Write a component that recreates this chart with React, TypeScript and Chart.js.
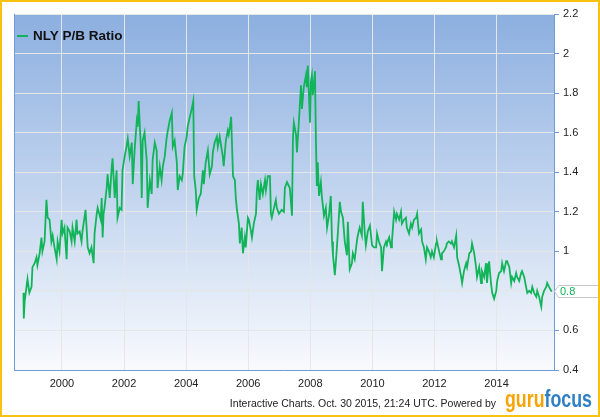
import { useEffect, useRef } from "react";
import { Chart, registerables } from "chart.js";

Chart.register(...registerables);

const seriesLabel = "NLY P/B Ratio";

const dates = [
  1998.76, 1998.77, 1998.80, 1998.89, 1998.95, 1999.02, 1999.05, 1999.12, 1999.18, 1999.21,
  1999.28, 1999.34, 1999.37, 1999.44, 1999.50, 1999.54, 1999.60, 1999.66, 1999.70, 1999.76,
  1999.83, 1999.86, 1999.92, 1999.99, 2000.02, 2000.08, 2000.15, 2000.18, 2000.25, 2000.31,
  2000.34, 2000.41, 2000.47, 2000.50, 2000.57, 2000.63, 2000.66, 2000.76, 2000.83, 2000.89,
  2000.95, 2001.02, 2001.05, 2001.12, 2001.15, 2001.25, 2001.28, 2001.31, 2001.34, 2001.37,
  2001.44, 2001.47, 2001.54, 2001.60, 2001.63, 2001.70, 2001.76, 2001.79, 2001.86, 2001.92,
  2001.95, 2002.02, 2002.08, 2002.12, 2002.18, 2002.25, 2002.28, 2002.34, 2002.41, 2002.44,
  2002.47, 2002.54, 2002.57, 2002.60, 2002.66, 2002.73, 2002.76, 2002.83, 2002.89, 2002.92,
  2002.99, 2003.05, 2003.08, 2003.15, 2003.21, 2003.25, 2003.31, 2003.37, 2003.41, 2003.47,
  2003.54, 2003.57, 2003.63, 2003.70, 2003.73, 2003.79, 2003.86, 2003.89, 2003.95, 2004.02,
  2004.05, 2004.12, 2004.18, 2004.23, 2004.26, 2004.31, 2004.34, 2004.41, 2004.47, 2004.54,
  2004.57, 2004.63, 2004.70, 2004.76, 2004.83, 2004.86, 2004.92, 2004.99, 2005.02, 2005.08,
  2005.15, 2005.18, 2005.21, 2005.28, 2005.34, 2005.37, 2005.41, 2005.45, 2005.48, 2005.51,
  2005.57, 2005.60, 2005.63, 2005.70, 2005.73, 2005.79, 2005.83, 2005.89, 2005.92, 2005.99,
  2006.02, 2006.08, 2006.12, 2006.18, 2006.25, 2006.28, 2006.31, 2006.37, 2006.41, 2006.47,
  2006.54, 2006.57, 2006.63, 2006.70, 2006.73, 2006.76, 2006.83, 2006.89, 2006.92, 2006.99,
  2007.08, 2007.15, 2007.18, 2007.25, 2007.34, 2007.41, 2007.44, 2007.47, 2007.54, 2007.57,
  2007.63, 2007.70, 2007.73, 2007.79, 2007.86, 2007.89, 2007.92, 2007.99, 2008.02, 2008.05,
  2008.08, 2008.15, 2008.18, 2008.21, 2008.24, 2008.28, 2008.34, 2008.37, 2008.44, 2008.50,
  2008.54, 2008.60, 2008.66, 2008.70, 2008.73, 2008.79, 2008.83, 2008.89, 2008.95, 2008.99,
  2009.05, 2009.11, 2009.18, 2009.21, 2009.27, 2009.34, 2009.37, 2009.43, 2009.50, 2009.53,
  2009.59, 2009.66, 2009.69, 2009.76, 2009.79, 2009.85, 2009.92, 2009.99, 2010.05, 2010.12,
  2010.15, 2010.21, 2010.28, 2010.31, 2010.37, 2010.44, 2010.47, 2010.54, 2010.60, 2010.63,
  2010.70, 2010.76, 2010.79, 2010.86, 2010.92, 2010.95, 2011.02, 2011.08, 2011.11, 2011.18,
  2011.24, 2011.28, 2011.34, 2011.41, 2011.44, 2011.50, 2011.57, 2011.60, 2011.66, 2011.72,
  2011.76, 2011.82, 2011.88, 2011.92, 2011.98, 2012.05, 2012.08, 2012.15, 2012.21, 2012.24,
  2012.30, 2012.37, 2012.40, 2012.46, 2012.53, 2012.56, 2012.63, 2012.70, 2012.73, 2012.79,
  2012.86, 2012.89, 2012.95, 2013.02, 2013.05, 2013.12, 2013.18, 2013.21, 2013.28, 2013.34,
  2013.37, 2013.44, 2013.50, 2013.53, 2013.60, 2013.66, 2013.69, 2013.76, 2013.82, 2013.86,
  2013.92, 2013.99, 2014.02, 2014.08, 2014.15, 2014.18, 2014.24, 2014.31, 2014.34, 2014.41,
  2014.47, 2014.50, 2014.57, 2014.63, 2014.66, 2014.73, 2014.79, 2014.82, 2014.89, 2014.95,
  2014.99, 2015.05, 2015.11, 2015.15, 2015.21, 2015.28, 2015.31, 2015.37, 2015.44, 2015.47,
  2015.53, 2015.60, 2015.63, 2015.69, 2015.76, 2015.79,
];

const ratios = [
  0.79, 0.66, 0.75, 0.86, 0.79, 0.82, 0.92, 0.94, 0.97, 0.93,
  0.99, 1.07, 1.00, 1.05, 1.26, 1.17, 1.16, 1.05, 1.08, 1.02,
  0.96, 1.05, 1.00, 1.16, 1.09, 1.12, 0.96, 1.12, 1.10, 1.05,
  1.12, 1.05, 1.16, 1.09, 1.10, 1.05, 1.10, 1.21, 1.02, 0.99,
  1.02, 0.94, 1.09, 1.19, 1.22, 1.16, 1.27, 1.07, 1.19, 1.22,
  1.32, 1.39, 1.27, 1.42, 1.47, 1.27, 1.41, 1.17, 1.22, 1.21,
  1.41, 1.48, 1.53, 1.57, 1.48, 1.55, 1.34, 1.51, 1.66, 1.63,
  1.76, 1.53, 1.27, 1.56, 1.60, 1.46, 1.22, 1.36, 1.29, 1.46,
  1.55, 1.51, 1.32, 1.43, 1.36, 1.43, 1.48, 1.57, 1.61, 1.66,
  1.70, 1.53, 1.56, 1.45, 1.31, 1.38, 1.36, 1.39, 1.53, 1.58,
  1.63, 1.68, 1.72, 1.76, 1.38, 1.31, 1.21, 1.27, 1.29, 1.41,
  1.34, 1.45, 1.51, 1.39, 1.43, 1.50, 1.55, 1.58, 1.53, 1.58,
  1.51, 1.48, 1.43, 1.56, 1.61, 1.59, 1.63, 1.68, 1.53, 1.38,
  1.36, 1.27, 1.22, 1.14, 1.04, 1.12, 0.99, 1.07, 1.02, 1.17,
  1.16, 1.11, 1.07, 1.14, 1.19, 1.31, 1.36, 1.26, 1.34, 1.29,
  1.36, 1.31, 1.38, 1.38, 1.19, 1.17, 1.22, 1.26, 1.22, 1.19,
  1.21, 1.20, 1.32, 1.35, 1.32, 1.18, 1.57, 1.65, 1.59, 1.50,
  1.65, 1.84, 1.72, 1.83, 1.89, 1.83, 1.94, 1.65, 1.86, 1.89,
  1.79, 1.91, 1.57, 1.33, 1.45, 1.28, 1.35, 1.28, 1.18, 1.22,
  1.12, 1.18, 1.28, 1.05, 0.98, 0.88, 0.96, 1.10, 1.25, 1.20,
  1.17, 1.05, 0.98, 1.15, 0.91, 0.94, 0.99, 0.96, 1.05, 1.08,
  1.12, 1.08, 1.25, 1.08, 1.03, 1.10, 1.13, 1.03, 1.02, 1.02,
  1.09, 1.05, 1.02, 0.90, 1.02, 1.05, 1.04, 1.07, 1.02, 1.05,
  1.20, 1.16, 1.19, 1.16, 1.20, 1.14, 1.16, 1.17, 1.12, 1.09,
  1.14, 1.12, 1.16, 1.17, 1.19, 1.09, 1.11, 1.05, 1.02, 0.96,
  1.02, 1.00, 0.97, 1.00, 0.97, 1.04, 1.05, 1.00, 0.96, 0.99,
  1.00, 1.02, 1.04, 1.05, 1.04, 1.05, 1.02, 1.08, 0.97, 0.93,
  0.87, 0.84, 0.90, 0.94, 0.92, 0.99, 1.00, 1.04, 0.99, 0.92,
  0.87, 0.92, 0.84, 0.90, 0.87, 0.94, 0.84, 0.95, 0.84, 0.79,
  0.76, 0.80, 0.85, 0.89, 0.90, 0.94, 0.90, 0.95, 0.95, 0.92,
  0.84, 0.87, 0.85, 0.89, 0.87, 0.85, 0.89, 0.90, 0.87, 0.82,
  0.79, 0.80, 0.79, 0.82, 0.79, 0.77, 0.80, 0.77, 0.72, 0.77,
  0.80, 0.82, 0.84, 0.82, 0.80, 0.80,
];

const xTickYears = [2000, 2002, 2004, 2006, 2008, 2010, 2012, 2014];
const yTickValues = [0.4, 0.6, 0.8, 1, 1.2, 1.4, 1.6, 1.8, 2, 2.2];
const xRange = [1998.455, 2015.85];
const yRange = [0.4, 2.2];
const footerText = "Interactive Charts. Oct. 30 2015, 21:24 UTC. Powered by";
const logoParts = ["guru", "focus"];

const GREEN = "#12b45a";
const AXIS_BLUE = "#6f9bd8";
const GRID = "#e6e6e6";
const FONT = '"Liberation Sans", Arial, sans-serif';

const decorPlugin = {
  id: "decor",
  beforeDraw(chart: any) {
    const { ctx, chartArea: a, width, height } = chart;
    ctx.save();
    ctx.fillStyle = "#ffffff";
    ctx.fillRect(0, 0, width, height);
    const g = ctx.createLinearGradient(0, a.top, 0, a.bottom);
    g.addColorStop(0, "#8cafe0");
    g.addColorStop(1, "#f8fafd");
    ctx.fillStyle = g;
    ctx.fillRect(a.left, a.top, a.right - a.left, a.bottom - a.top);
    ctx.restore();
  },
  afterDraw(chart: any) {
    const { ctx, chartArea: a, width, height } = chart;
    const yScale = chart.scales.y;
    ctx.save();

    // left border of plot
    ctx.strokeStyle = AXIS_BLUE;
    ctx.lineWidth = 1;
    ctx.beginPath();
    ctx.moveTo(Math.round(a.left) + 0.5, a.top);
    ctx.lineTo(Math.round(a.left) + 0.5, a.bottom);
    ctx.stroke();

    // legend
    const ly = a.top + 22;
    ctx.strokeStyle = GREEN;
    ctx.lineWidth = 2;
    ctx.beginPath();
    ctx.moveTo(a.left + 3, ly);
    ctx.lineTo(a.left + 14, ly);
    ctx.stroke();
    ctx.fillStyle = "#111";
    ctx.font = `bold 13.5px ${FONT}`;
    ctx.textBaseline = "middle";
    ctx.textAlign = "left";
    ctx.fillText(chart.data.datasets[0].label, a.left + 19, ly);

    // last value flag
    const last = ratios[ratios.length - 1];
    const fy = Math.round(yScale.getPixelForValue(last)) + 0.5;
    const fx = a.right;
    ctx.beginPath();
    ctx.moveTo(fx + 0.5, fy);
    ctx.lineTo(fx + 4.5, fy - 6);
    ctx.lineTo(width, fy - 6);
    ctx.lineTo(width, fy + 6);
    ctx.lineTo(fx + 4.5, fy + 6);
    ctx.closePath();
    ctx.fillStyle = "#ffffff";
    ctx.fill();
    ctx.strokeStyle = "#c8c8c8";
    ctx.lineWidth = 1;
    ctx.stroke();
    ctx.fillStyle = GREEN;
    ctx.font = `11px ${FONT}`;
    ctx.textBaseline = "middle";
    ctx.fillText(String(last.toFixed(1)), fx + 6, fy + 0.5);

    // footer
    ctx.fillStyle = "#222";
    ctx.font = `10.5px ${FONT}`;
    ctx.textAlign = "right";
    ctx.textBaseline = "alphabetic";
    ctx.fillText(footerText, 496, 407);

    // logo (condensed by horizontal scaling)
    ctx.textAlign = "left";
    ctx.font = `bold 23px ${FONT}`;
    const w0 = ctx.measureText(logoParts[0]).width;
    const w1 = ctx.measureText(logoParts[1]).width;
    const sx = 87 / (w0 + w1);
    ctx.save();
    ctx.translate(505, 407);
    ctx.scale(sx, 1);
    ctx.fillStyle = "#f6a500";
    ctx.fillText(logoParts[0], 0, 0);
    ctx.fillStyle = "#2f7fc4";
    ctx.fillText(logoParts[1], w0, 0);
    ctx.restore();

    // outer orange border
    ctx.strokeStyle = "#f8c211";
    ctx.lineWidth = 2;
    ctx.strokeRect(1, 1, width - 2, height - 2);
    ctx.restore();
  },
};

export default function App() {
  const ref = useRef<HTMLCanvasElement | null>(null);

  useEffect(() => {
    document.body.style.margin = "0";
    const canvas = ref.current;
    if (!canvas) return;
    const chart = new Chart(canvas, {
      type: "line",
      data: {
        datasets: [
          {
            label: seriesLabel,
            data: dates.map((d, i) => ({ x: d, y: ratios[i] })),
            borderColor: GREEN,
            borderWidth: 1.8,
            pointRadius: 0,
            tension: 0,
            fill: false,
          },
        ],
      },
      options: {
        responsive: false,
        animation: false,
        devicePixelRatio: 1,
        layout: { padding: { left: 14, top: 14, right: 0, bottom: 0 } },
        plugins: { legend: { display: false }, tooltip: { enabled: false } },
        scales: {
          x: {
            type: "linear",
            min: xRange[0],
            max: xRange[1],
            afterBuildTicks: (s: any) => {
              s.ticks = xTickYears.map((v) => ({ value: v }));
            },
            afterFit: (s: any) => {
              s.height = 47;
            },
            grid: { color: GRID, drawTicks: false },
            border: { color: AXIS_BLUE },
            ticks: {
              padding: 7,
              color: "#222",
              font: { family: FONT, size: 11 },
              maxRotation: 0,
              autoSkip: false,
              callback: (v: any) => String(v),
            },
          },
          y: {
            type: "linear",
            position: "right",
            min: yRange[0],
            max: yRange[1],
            afterBuildTicks: (s: any) => {
              s.ticks = yTickValues.map((v) => ({ value: v }));
            },
            afterFit: (s: any) => {
              s.width = 46;
            },
            grid: { color: GRID, tickColor: AXIS_BLUE, tickLength: 5 },
            border: { color: AXIS_BLUE },
            ticks: {
              padding: 4,
              color: "#222",
              font: { family: FONT, size: 11 },
              autoSkip: false,
              callback: (v: any) => String(Math.round(Number(v) * 10) / 10),
            },
          },
        },
      },
      plugins: [decorPlugin],
    } as any);
    return () => chart.destroy();
  }, []);

  return <canvas ref={ref} width={600} height={417} style={{ display: "block" }} />;
}
